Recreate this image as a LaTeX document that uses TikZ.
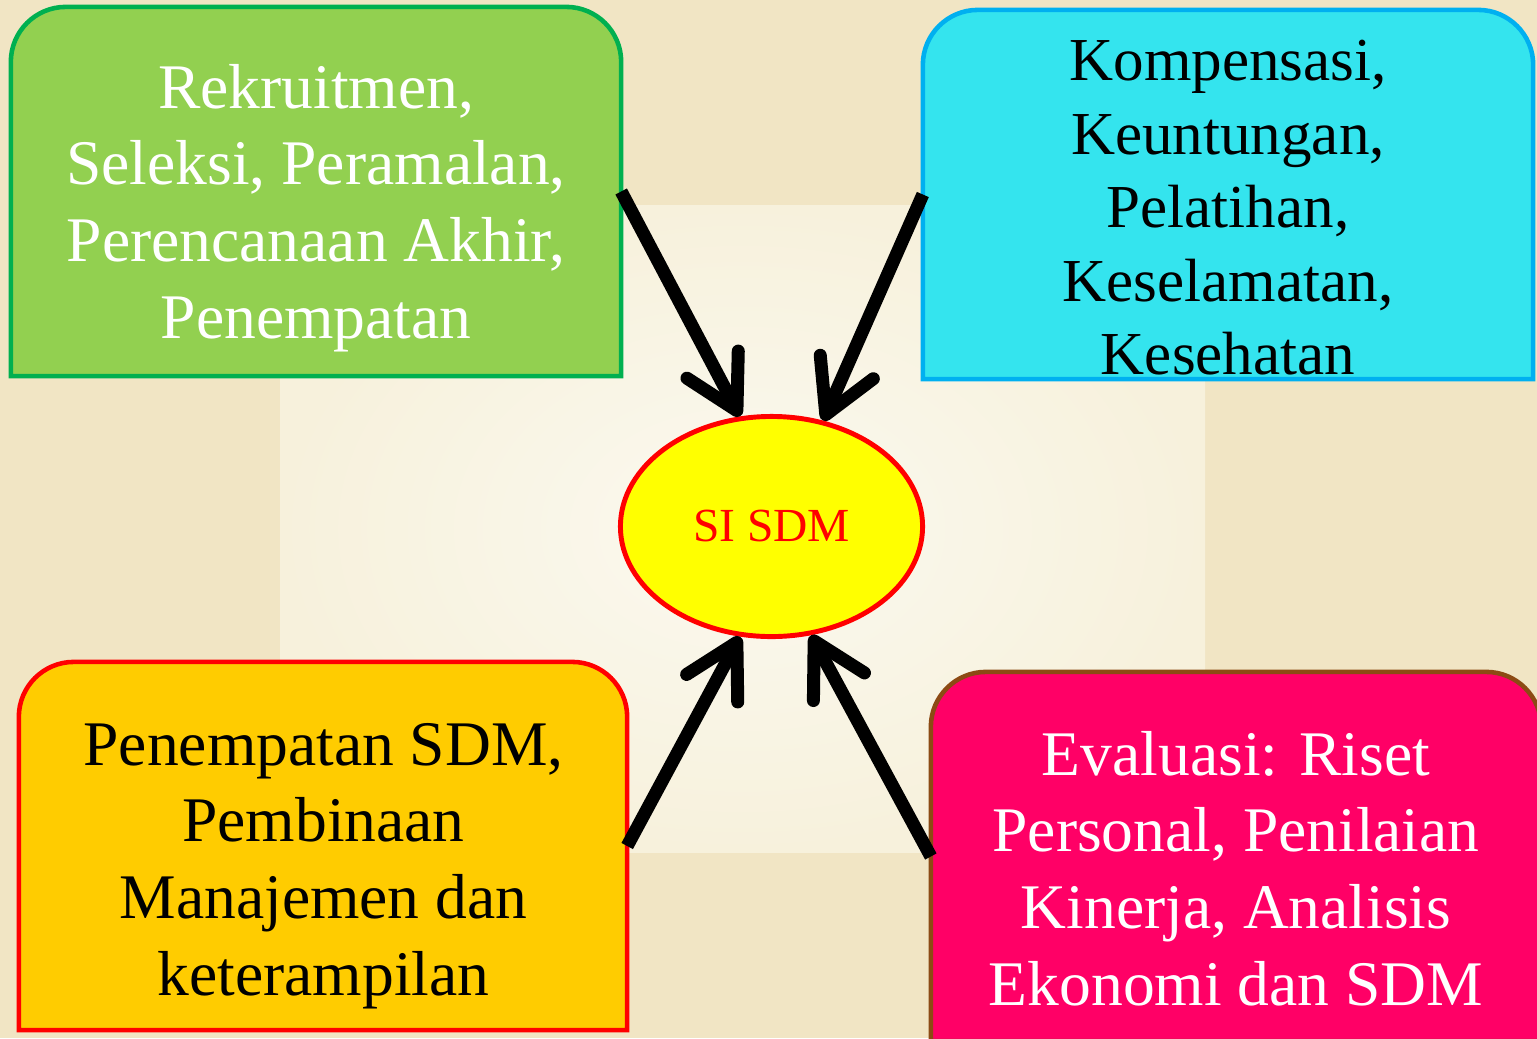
\documentclass[tikz,border=0pt]{standalone}
\usepackage{fontspec}
\setmainfont{Liberation Serif}
\usetikzlibrary{arrows.meta,shapes.geometric}

\definecolor{bgouter}{RGB}{241,229,196}
\definecolor{bgmid}{RGB}{247,241,220}
\definecolor{bginner}{RGB}{251,249,240}
\definecolor{boxgreen}{RGB}{146,208,80}
\definecolor{linegreen}{RGB}{0,176,80}
\definecolor{boxcyan}{RGB}{52,228,238}
\definecolor{linecyan}{RGB}{0,176,240}
\definecolor{boxgold}{RGB}{255,204,0}
\definecolor{boxpink}{RGB}{255,0,102}
\definecolor{linebrown}{RGB}{140,74,20}
\definecolor{sdmyellow}{RGB}{255,255,0}

% box with the two upper corners rounded, drawn round an empty node
\newcommand{\topround}[2]{%
  \draw[#1] (#2.south west) -- ([yshift=-0.55cm]#2.north west)
    arc[start angle=180, end angle=90, radius=0.55cm]
    -- ([xshift=-0.55cm]#2.north east)
    arc[start angle=90, end angle=0, radius=0.55cm]
    -- (#2.south east) -- cycle;}

\begin{document}
\begin{tikzpicture}[x=0.01cm, y=0.01cm,
    frame/.style={minimum width=6.1cm, minimum height=3.69cm, inner sep=0pt, outer sep=0pt},
    boxline/.style={line width=1.3pt},
    boxtext/.style={align=center, inner sep=0pt, font=\fontsize{18.07pt}{21.82pt}\selectfont},
    flow/.style={line width=3.7pt, -{Straight Barb[length=5.2mm, width=5.8mm, round]}}]

    % Page and its lighter middle
    \path[use as bounding box] (0,0) rectangle (1537,1038);
    \clip (0,0) rectangle (1537,1038);
    \fill[bgouter] (0,0) rectangle (1537,1038);
    \shade[inner color=bginner, outer color=bgmid] (280,186) rectangle (1205,833);

    % The four boxes
    \node[frame] (green) at (316,846.5) {};
    \topround{boxline, fill=boxgreen, draw=linegreen}{green}
    \node[boxtext, white] (greentext) at (316,830) {Rekruitmen,\\ Seleksi, Peramalan,\\ Perencanaan Akhir,\\ Penempatan};

    \node[frame] (cyan) at (1228,843.5) {};
    \topround{boxline, fill=boxcyan, draw=linecyan}{cyan}
    \node[boxtext, font=\fontsize{17.36pt}{20.91pt}\selectfont] (cyantext) at (1228,830) {Kompensasi,\\ Keuntungan,\\ Pelatihan,\\ Keselamatan,\\ Kesehatan};

    \node[frame, minimum width=6.08cm, minimum height=3.68cm] (gold) at (323,192) {};
    \topround{boxline, fill=boxgold, draw=red}{gold}
    \node[boxtext] (goldtext) at (323.5,172) {Penempatan SDM,\\ Pembinaan\\ Manajemen dan\\ keterampilan};

    \node[frame] (pink) at (1236,181.5) {};
    \topround{boxline, fill=boxpink, draw=linebrown}{pink}
    \node[boxtext, white] (pinktext) at (1236,169.5) {Evaluasi: Riset\\ Personal, Penilaian\\ Kinerja, Analisis\\ Ekonomi dan SDM};

    % The centre
    \node[ellipse, draw=red, line width=1.4pt, fill=sdmyellow, minimum width=3.02cm, minimum height=2.2cm,
          inner sep=0pt, text=red, font=\fontsize{13.5pt}{16pt}\selectfont] (sdm) at (771.5,511.5) {SI SDM};

    % Arrows into the centre
    \draw[flow] (green.east) -- (sdm.106);
    \draw[flow] (cyan.west) -- (sdm.64);
    \draw[flow] (gold.east) -- (sdm.254);
    \draw[flow] (pink.west) -- (sdm.290);
\end{tikzpicture}
\end{document}
